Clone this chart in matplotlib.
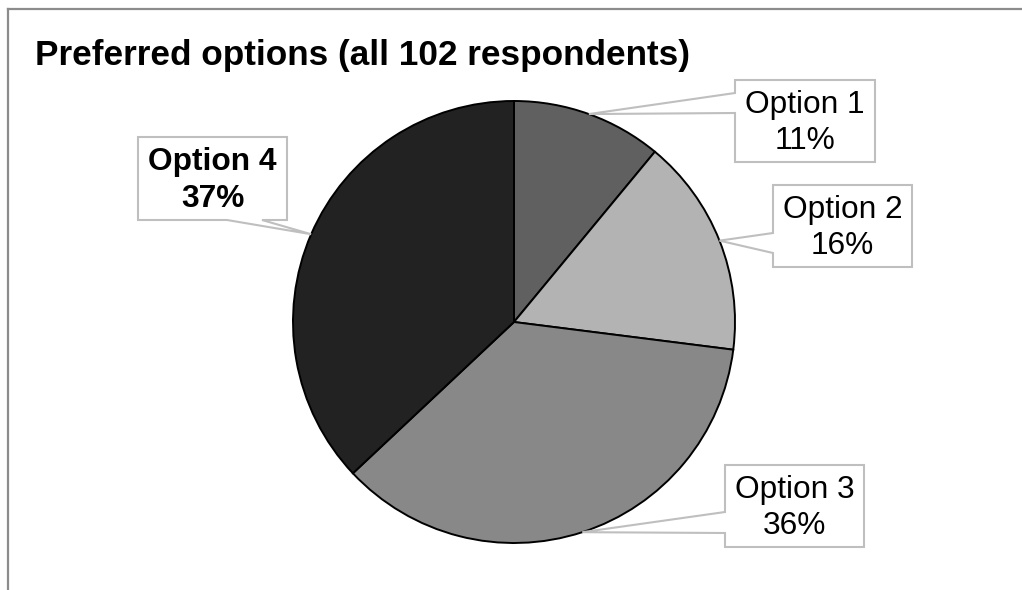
import numpy as np
import matplotlib.pyplot as plt
from matplotlib.patches import Polygon
from matplotlib.lines import Line2D

plt.rcParams['font.family'] = ['Liberation Sans', 'DejaVu Sans']

# survey results
options = ["Option 1", "Option 2", "Option 3", "Option 4"]
shares = [11, 16, 36, 37]
title = "Preferred options (all 102 respondents)"

slice_colors = ["#606060", "#b3b3b3", "#888888", "#222222"]

W, H = 1022, 590
fig = plt.figure(figsize=(W / 100, H / 100), dpi=100)
ax = fig.add_axes([0, 0, 1, 1])

# pixel-style coordinates, y pointing down
cx, cy, r = 514, 322, 221
ax.pie(shares, colors=slice_colors, startangle=-90, counterclock=True,
       center=(cx, cy), radius=r,
       wedgeprops=dict(edgecolor="black", linewidth=1.4))
ax.set_xlim(0, W)
ax.set_ylim(H, 0)
ax.set_aspect("equal")
ax.axis("off")

# outer frame (top and left edges only show)
ax.add_line(Line2D([8, W + 5], [9, 9], color="#8c8c8c", lw=1.6))
ax.add_line(Line2D([8, 8], [9, H + 5], color="#8c8c8c", lw=1.6))

ax.text(35, 55, title, fontsize=25.3, fontweight="bold", ha="left", va="center")

# callout boxes: (left, top, right, bottom), side with pointer, pointer base span
boxes = [
    ((735, 80, 875, 162), "left", (93, 113)),
    ((773, 185, 912, 267), "left", (233, 253)),
    ((725, 465, 864, 547), "left", (512, 533)),
    ((138, 137, 287, 220), "bottom", (227, 262)),
]

total = float(sum(shares))
cum = np.cumsum([0] + shares)
for i, (name, val) in enumerate(zip(options, shares)):
    mid = (cum[i] + val / 2.0) / total
    ang = np.deg2rad(90 - 360 * mid)
    tip = (cx + r * np.cos(ang), cy - r * np.sin(ang))
    (x0, y0, x1, y1), side, (b0, b1) = boxes[i]
    if side == "left":
        pts = [(x0, y0), (x1, y0), (x1, y1), (x0, y1), (x0, b1), tip, (x0, b0)]
    else:
        pts = [(x0, y0), (x1, y0), (x1, y1), (b1, y1), tip, (b0, y1), (x0, y1)]
    ax.add_patch(Polygon(pts, closed=True, facecolor="white",
                         edgecolor="#bfbfbf", linewidth=1.5, zorder=3))
    weight = "bold" if i == 3 else "normal"
    ax.text((x0 + x1) / 2, (y0 + y1) / 2 + 2, "%s\n%d%%" % (name, val),
            fontsize=22.8, fontweight=weight, ha="center", va="center",
            linespacing=1.3, zorder=4)

fig.savefig("out.png", dpi=100)
